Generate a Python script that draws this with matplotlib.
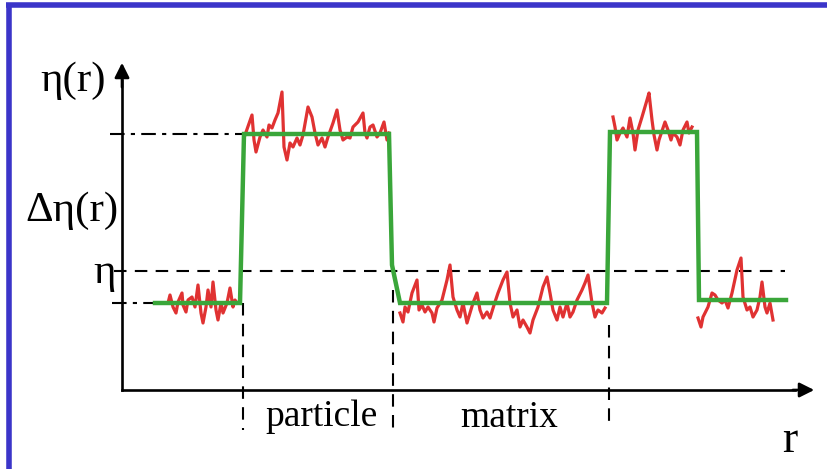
import numpy as np
import matplotlib.pyplot as plt

# schematic in picture coordinates (x to the right, y downwards)
levels = {"high": 134, "mean": 271, "low": 303}

green_x = [155, 240, 244, 389, 392, 400, 607, 610, 697, 699, 699, 786]
green_y = [303, 303, 134, 134, 265, 303, 303, 132, 132, 300, 300, 300]

red_low1_x = [168, 170, 173, 176, 178, 182, 183, 186, 188, 192, 195, 198, 201, 203,
              206, 208, 211, 213, 216, 218, 221, 223, 227, 230, 233, 235, 237]
red_low1_y = [303, 295, 307, 313, 302, 293, 305, 312, 300, 297, 307, 285, 313, 323,
              307, 290, 307, 282, 310, 320, 303, 313, 303, 288, 307, 300, 303]

red_high1_x = [245, 252, 254, 256, 260, 263, 267, 269, 272, 275, 278, 282, 284, 287,
               290, 293, 297, 300, 303, 308, 312, 315, 318, 322, 325, 328, 333, 337,
               340, 343, 347, 350, 353, 358, 363, 365, 367, 370, 373, 377, 380, 384,
               387, 389]
red_high1_y = [135, 115, 140, 152, 137, 130, 137, 125, 128, 120, 113, 92, 147, 160,
               143, 147, 138, 145, 135, 107, 117, 133, 145, 138, 147, 137, 123, 110,
               130, 140, 137, 138, 127, 122, 113, 133, 138, 127, 125, 137, 133, 122,
               140, 133]

red_low2_x = [400, 403, 405, 408, 412, 417, 419, 422, 425, 428, 432, 434, 437, 442,
              447, 450, 453, 457, 460, 463, 467, 470, 473, 477, 480, 483, 487, 490,
              494, 498, 503, 507, 510, 513, 517, 520, 523, 527, 530, 533, 538, 543,
              547, 550, 553, 557, 560, 563, 567, 570, 573, 577, 582, 585, 588, 592,
              595, 598, 602, 605]
red_low2_y = [313, 322, 307, 312, 293, 280, 310, 305, 312, 307, 313, 322, 308, 300,
              280, 265, 297, 310, 317, 303, 323, 313, 303, 293, 310, 318, 312, 318,
              305, 293, 280, 272, 303, 317, 310, 327, 320, 327, 333, 320, 307, 287,
              277, 293, 310, 320, 307, 317, 303, 317, 312, 300, 290, 283, 275, 303,
              317, 310, 313, 308]

red_high2_x = [613, 615, 617, 620, 623, 627, 630, 633, 635, 638, 642, 647, 649, 652,
               654, 657, 659, 663, 665, 668, 671, 673, 677, 680, 683, 687, 689, 692]
red_high2_y = [117, 127, 140, 133, 128, 137, 118, 133, 150, 130, 117, 100, 93, 120,
               135, 150, 140, 128, 122, 130, 140, 133, 137, 145, 130, 122, 133, 127]

red_low3_x = [698, 701, 703, 708, 712, 715, 718, 722, 725, 728, 732, 737, 741, 743,
              747, 750, 753, 757, 760, 762, 765, 767, 770, 773]
red_low3_y = [318, 327, 317, 307, 293, 295, 300, 303, 300, 308, 293, 270, 258, 297,
              310, 307, 317, 310, 297, 282, 307, 313, 303, 320]

boundaries = [243, 393, 609]
boundary_top = [303, 290, 325]
boundary_bottom = [430, 430, 422]

fig = plt.figure(figsize=(8.27, 4.69), dpi=100)
ax = fig.add_axes([0, 0, 1, 1])
ax.set_xlim(0, 827)
ax.set_ylim(469, 0)
ax.axis("off")

blue = "#3b35c9"
ax.plot([8.5, 8.5], [469, 3], color=blue, lw=4, solid_capstyle="butt")
ax.plot([6, 827], [5.5, 5.5], color=blue, lw=4, solid_capstyle="butt")

# axes with arrows
ax.plot([122, 122], [390, 80], color="k", lw=1.9)
ax.plot([122, 795], [390, 390], color="k", lw=1.9)
ax.annotate("", xy=(122, 60), xytext=(122, 90),
            arrowprops=dict(arrowstyle="-|>", color="k", lw=1.9, mutation_scale=22))
ax.annotate("", xy=(817, 390), xytext=(790, 390),
            arrowprops=dict(arrowstyle="-|>", color="k", lw=1.9, mutation_scale=22))

# guide lines
ax.plot([110, 244], [levels["high"]] * 2, color="k", lw=1.5, ls=(0, (7, 3, 2, 3)))
ax.plot([112, 158], [levels["low"]] * 2, color="k", lw=1.5, ls=(0, (7, 3, 2, 3)))
ax.plot([114, 785], [levels["mean"]] * 2, color="k", lw=1.5, ls=(0, (6, 4)))
for bx, bt, bb in zip(boundaries, boundary_top, boundary_bottom):
    ax.plot([bx, bx], [bt, bb], color="k", lw=1.5, ls=(0, (6, 4)))

red = "#e03232"
for xs, ys in [(red_low1_x, red_low1_y), (red_high1_x, red_high1_y),
               (red_low2_x, red_low2_y), (red_high2_x, red_high2_y),
               (red_low3_x, red_low3_y)]:
    ax.plot(xs, ys, color=red, lw=2.3, solid_joinstyle="round")

ax.plot(green_x, green_y, color="#3aa63a", lw=3.2, solid_joinstyle="miter")

serif = "Liberation Serif"
ax.text(40, 91, "η(r)", fontsize=31, family=serif, va="baseline")
ax.text(25, 221, "Δη(r)", fontsize=31, family=serif, va="baseline")
ax.text(93, 283, "η", fontsize=31, family=serif, va="baseline")
ax.text(265, 426, "particle", fontsize=27, family=serif, va="baseline")
ax.text(460, 427, "matrix", fontsize=27, family=serif, va="baseline")
ax.text(782, 452, "r", fontsize=33, family=serif, va="baseline")

fig.savefig("out.png", dpi=100)
